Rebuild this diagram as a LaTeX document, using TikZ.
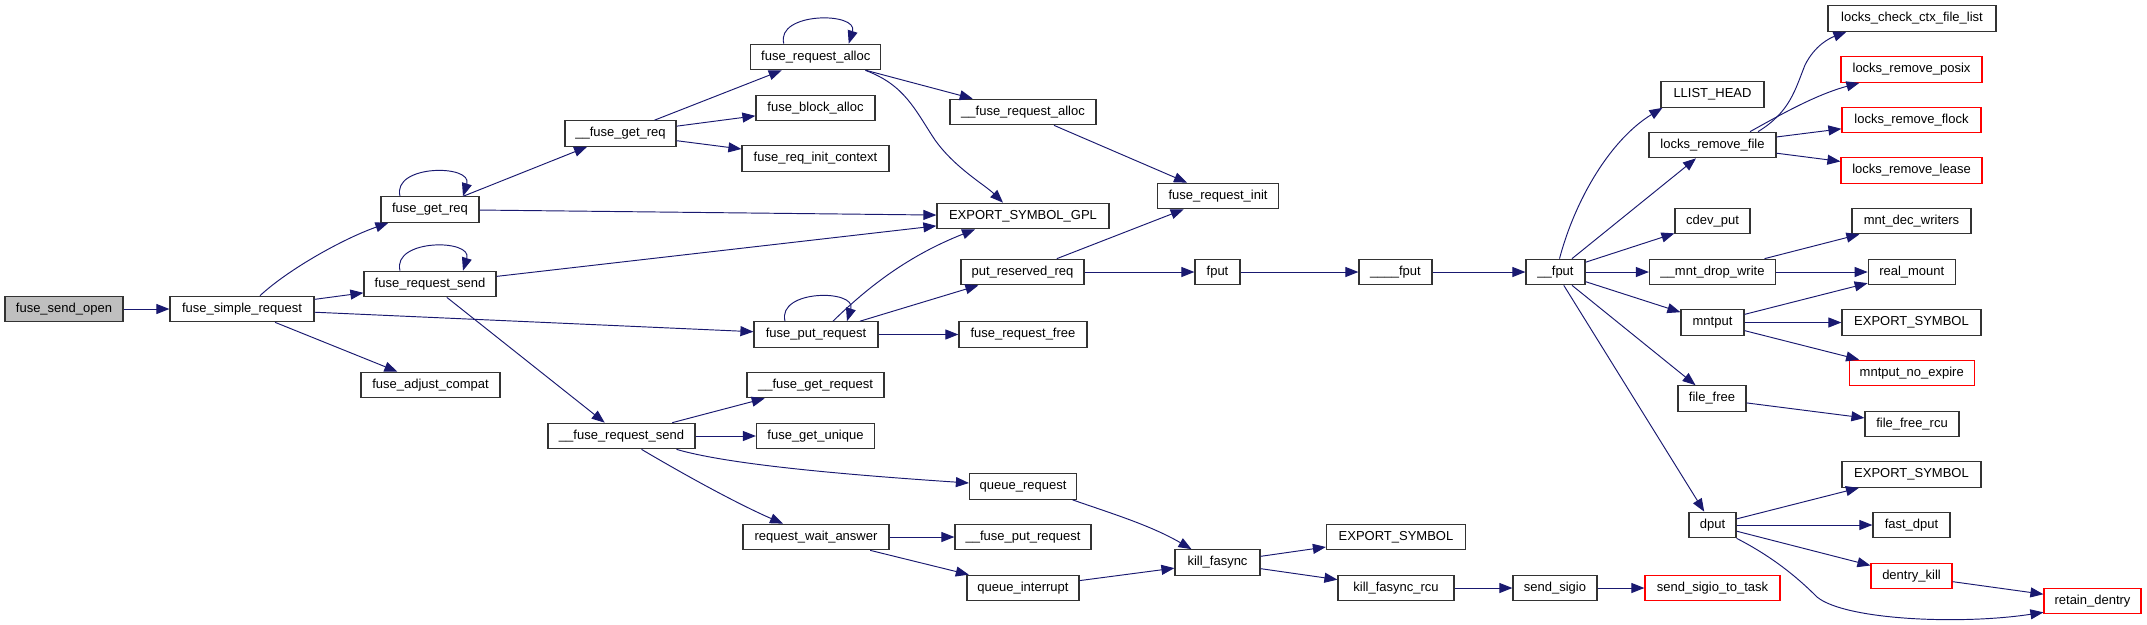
\documentclass[tikz,border=0pt]{standalone}
\usepackage{fontspec}
\setmainfont{Liberation Sans}
\usetikzlibrary{arrows.meta}
\definecolor{edgeblue}{HTML}{191970}
\definecolor{grayfill}{HTML}{BFBFBF}
\begin{document}
\begin{tikzpicture}[x=1pt,y=-1pt,
  fn/.style={draw=black!80, line width=1.2pt, rectangle, inner sep=0pt, minimum height=25.5pt, font=\fontsize{13}{15}\selectfont, fill=white},
  redfn/.style={fn, draw=red},
  edge/.style={draw=edgeblue, line width=0.95pt, -{Triangle[length=13pt,width=10pt]}},
]
\useasboundingbox[fill=white] (0,0) rectangle (2147,624);
% nodes
\node[fn,fill=grayfill,minimum width=118pt] (fso) at (64,309) {fuse\_send\_open};
\node[fn,minimum width=144pt] (fsr) at (242,309) {fuse\_simple\_request};
\node[fn,minimum width=98pt] (fgr) at (430,209.5) {fuse\_get\_req};
\node[fn,minimum width=132pt] (frs) at (430,284) {fuse\_request\_send};
\node[fn,minimum width=139pt] (fac) at (430.5,385) {fuse\_adjust\_compat};
\node[fn,minimum width=111pt] (ufgr) at (620.5,133.5) {\_\_fuse\_get\_req};
\node[fn,minimum width=147pt] (ufrs) at (621.5,436) {\_\_fuse\_request\_send};
\node[fn,minimum width=130pt] (fra) at (815.75,57) {fuse\_request\_alloc};
\node[fn,minimum width=119pt] (fba) at (815.5,108) {fuse\_block\_alloc};
\node[fn,minimum width=147pt] (fric) at (815.5,158.5) {fuse\_req\_init\_context};
\node[fn,minimum width=124pt] (fpr) at (816,334.5) {fuse\_put\_request};
\node[fn,minimum width=137pt] (ufgrq) at (815.5,385) {\_\_fuse\_get\_request};
\node[fn,minimum width=118pt] (fgu) at (815.5,436) {fuse\_get\_unique};
\node[fn,minimum width=146pt] (rwa) at (816,537) {request\_wait\_answer};
\node[fn,minimum width=172pt] (esg) at (1023,216) {EXPORT\_SYMBOL\_GPL};
\node[fn,minimum width=146pt] (ufra) at (1023,112) {\_\_fuse\_request\_alloc};
\node[fn,minimum width=123pt] (prr) at (1022.5,272) {put\_reserved\_req};
\node[fn,minimum width=128pt] (frf) at (1023,334.5) {fuse\_request\_free};
\node[fn,minimum width=107pt] (qr) at (1023,486.5) {queue\_request};
\node[fn,minimum width=136pt] (ufpr) at (1023,537) {\_\_fuse\_put\_request};
\node[fn,minimum width=112pt] (qi) at (1023,588) {queue\_interrupt};
\node[fn,minimum width=121pt] (fri) at (1218,196) {fuse\_request\_init};
\node[fn,minimum width=45pt] (fput) at (1217.5,272) {fput};
\node[fn,minimum width=85pt] (kf) at (1217.5,562.5) {kill\_fasync};
\node[fn,minimum width=73pt] (u4fput) at (1395.5,272) {\_\_\_\_fput};
\node[fn,minimum width=139pt] (es1) at (1396,537) {EXPORT\_SYMBOL};
\node[fn,minimum width=116pt] (kfr) at (1396,588) {kill\_fasync\_rcu};
\node[fn,minimum width=59pt] (u2fput) at (1555.5,272) {\_\_fput};
\node[fn,minimum width=84pt] (ss) at (1555,588) {send\_sigio};
\node[fn,minimum width=103pt] (llh) at (1712.5,94.5) {LLIST\_HEAD};
\node[fn,minimum width=127pt] (lrf) at (1712.5,145) {locks\_remove\_file};
\node[fn,minimum width=75pt] (cdp) at (1712.5,221) {cdev\_put};
\node[fn,minimum width=126pt] (mdw) at (1712.5,272) {\_\_mnt\_drop\_write};
\node[fn,minimum width=63pt] (mntput) at (1712.5,322.5) {mntput};
\node[fn,minimum width=68pt] (ff) at (1712,398.5) {file\_free};
\node[fn,minimum width=47pt] (dput) at (1712.5,525) {dput};
\node[redfn,minimum width=135pt] (sst) at (1712.5,588) {send\_sigio\_to\_task};
\node[fn,minimum width=168pt] (lcc) at (1912,18.5) {locks\_check\_ctx\_file\_list};
\node[redfn,minimum width=141pt] (lrp) at (1911.5,69.5) {locks\_remove\_posix};
\node[redfn,minimum width=139pt] (lrfl) at (1911.5,120) {locks\_remove\_flock};
\node[redfn,minimum width=141pt] (lrl) at (1911.5,170.5) {locks\_remove\_lease};
\node[fn,minimum width=119pt] (mdwr) at (1911.5,221) {mnt\_dec\_writers};
\node[fn,minimum width=87pt] (rm) at (1911.75,272) {real\_mount};
\node[fn,minimum width=139pt] (es2) at (1911.5,322.5) {EXPORT\_SYMBOL};
\node[redfn,minimum width=125pt] (mne) at (1911.75,373) {mntput\_no\_expire};
\node[fn,minimum width=94pt] (ffr) at (1912,424) {file\_free\_rcu};
\node[fn,minimum width=139pt] (es3) at (1911.5,474.5) {EXPORT\_SYMBOL};
\node[fn,minimum width=77pt] (fd) at (1911.5,525) {fast\_dput};
\node[redfn,minimum width=81pt] (dk) at (1911.5,576) {dentry\_kill};
\node[redfn,minimum width=97pt] (rd) at (2092.5,601) {retain\_dentry};
% straight edges
\draw[edge] (fso) -- (fsr);
\draw[edge] (fsr) -- (frs);
\draw[edge] (fsr) -- (fpr);
\draw[edge] (fsr) -- (fac);
\draw[edge] (fgr) -- (ufgr);
\draw[edge] (fgr) -- (esg);
\draw[edge] (frs) -- (esg);
\draw[edge] (frs) -- (ufrs);
\draw[edge] (ufgr) -- (fra);
\draw[edge] (ufgr) -- (fba);
\draw[edge] (ufgr) -- (fric);
\draw[edge] (fra) -- (ufra);
\draw[edge] (ufra) -- (fri);
\draw[edge] (fpr) -- (prr);
\draw[edge] (fpr) -- (frf);
\draw[edge] (prr) -- (fri);
\draw[edge] (prr) -- (fput);
\draw[edge] (fput) -- (u4fput);
\draw[edge] (u4fput) -- (u2fput);
\draw[edge] (ufrs) -- (ufgrq);
\draw[edge] (ufrs) -- (fgu);
\draw[edge] (rwa) -- (ufpr);
\draw[edge] (rwa) -- (qi);
\draw[edge] (qi) -- (kf);
\draw[edge] (kf) -- (es1);
\draw[edge] (kf) -- (kfr);
\draw[edge] (kfr) -- (ss);
\draw[edge] (ss) -- (sst);
\draw[edge] (u2fput) -- (lrf);
\draw[edge] (u2fput) -- (cdp);
\draw[edge] (u2fput) -- (mdw);
\draw[edge] (u2fput) -- (mntput);
\draw[edge] (u2fput) -- (ff);
\draw[edge] (u2fput) -- (dput);
\draw[edge] (lrf) -- (lrfl);
\draw[edge] (lrf) -- (lrl);
\draw[edge] (mdw) -- (mdwr);
\draw[edge] (mdw) -- (rm);
\draw[edge] (mntput) -- (rm);
\draw[edge] (mntput) -- (es2);
\draw[edge] (mntput) -- (mne);
\draw[edge] (ff) -- (ffr);
\draw[edge] (dput) -- (es3);
\draw[edge] (dput) -- (fd);
\draw[edge] (dput) -- (dk);
\draw[edge] (dk) -- (rd);
% curved edges
\draw[edge] ([xshift=18pt]fsr.north) .. controls (290,268) and (345,238) .. ([xshift=8pt]fgr.south west);
\draw[edge] ([xshift=-16pt]fra.south east) .. controls (905,85) and (915,110) .. (935,140) .. controls (955,168) and (985,185) .. ([xshift=-20pt]esg.north);
\draw[edge] ([xshift=17pt]fpr.north) .. controls (870,285) and (910,255) .. ([xshift=-48pt]esg.south);
\draw[edge] ([xshift=55pt]ufrs.south) .. controls (730,465) and (850,475) .. ([yshift=3.5pt]qr.west);
\draw[edge] ([xshift=20pt]ufrs.south) .. controls (690,478) and (740,505) .. ([xshift=-33pt]rwa.north);
\draw[edge] ([xshift=-4.5pt]qr.south east) .. controls (1110,513) and (1150,525) .. ([xshift=-26pt]kf.north);
\draw[edge] ([xshift=4pt]u2fput.north) .. controls (1575,200) and (1610,140) .. ([xshift=2pt]llh.south west);
\draw[edge] ([xshift=45.5pt]lrf.north) .. controls (1790,112) and (1795,90) .. (1805,65) .. controls (1815,45) and (1830,38) .. ([xshift=19pt]lcc.south west);
\draw[edge] ([xshift=37.5pt]lrf.north) .. controls (1780,115) and (1815,95) .. ([xshift=19pt]lrp.south west);
\draw[edge] (dput.south east) .. controls (1775,558) and (1800,580) .. (1817,597) .. controls (1845,620) and (1960,625) .. ([yshift=2pt]rd.south west);
% self loops
\draw[edge] ([xshift=-30pt]fgr.north) .. controls +(-8,-32) and +(10,-32) .. ([xshift=33pt]fgr.north);
\draw[edge] ([xshift=-30pt]frs.north) .. controls +(-8,-32) and +(10,-32) .. ([xshift=33pt]frs.north);
\draw[edge] ([xshift=-32pt]fra.north) .. controls +(-8,-32) and +(10,-32) .. ([xshift=33pt]fra.north);
\draw[edge] ([xshift=-31pt]fpr.north) .. controls +(-8,-32) and +(10,-32) .. ([xshift=31pt]fpr.north);
\end{tikzpicture}
\end{document}
